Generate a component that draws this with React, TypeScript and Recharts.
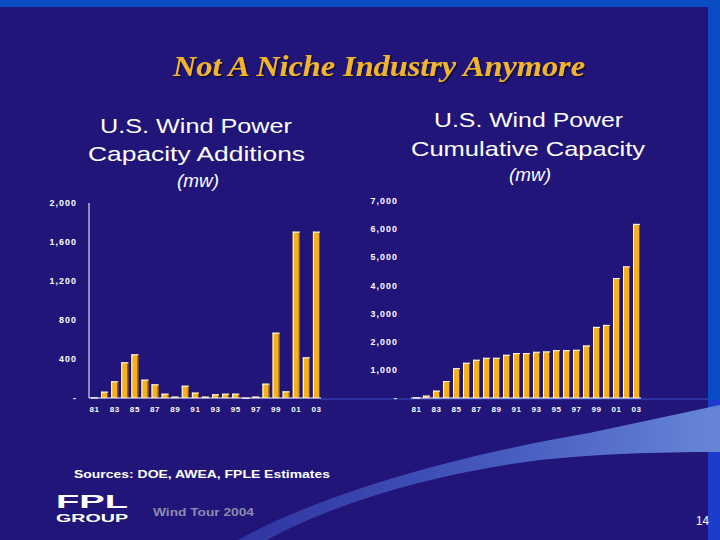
import React from 'react';
import { BarChart, Bar, XAxis, YAxis } from 'recharts';

const yearLabels = ['81','82','83','84','85','86','87','88','89','90','91','92','93','94','95','96','97','98','99','00','01','02','03'];
const additions = [5, 65, 171, 366, 448, 188, 140, 44, 14, 126, 55, 14, 38, 44, 44, 2, 14, 147, 670, 68, 1706, 417, 1706];
const cumulative = [20, 83, 260, 602, 1063, 1251, 1358, 1428, 1428, 1535, 1594, 1594, 1641, 1653, 1700, 1700, 1712, 1865, 2527, 2597, 4262, 4675, 6187];
const additionTicks = [0, 400, 800, 1200, 1600, 2000];
const cumulativeTicks = [0, 1000, 2000, 3000, 4000, 5000, 6000, 7000];

const additionsData = yearLabels.map((y, i) => ({ year: y, value: additions[i] }));
const cumulativeData = yearLabels.map((y, i) => ({ year: y, value: cumulative[i] }));

const NAVY = '#21157a';
const BLUE = '#0a4cc4';
const GOLD = '#f5b21b';
const FONT = '"Liberation Sans", Arial, sans-serif';

const fmt = (v: number) => (v === 0 ? '-' : v.toLocaleString('en-US'));

const GoldBar = (props: any) => {
  const { x, y, width, height } = props;
  if (!height || height <= 0) return null;
  return (
    <g>
      <rect x={x} y={y} width={width} height={height} fill={GOLD} />
      <line x1={x + width - 0.5} y1={y} x2={x + width - 0.5} y2={y + height} stroke="#7a4a12" strokeWidth={1} />
      <line x1={x + 0.5} y1={y + height} x2={x + 0.5} y2={y} stroke="#ffffff" strokeWidth={1} />
      <line x1={x} y1={y + 0.5} x2={x + width} y2={y + 0.5} stroke="#ffffff" strokeWidth={1} />
    </g>
  );
};

const YTick = (props: any) => {
  const { x, y, payload } = props;
  return (
    <text x={x} y={y} dy={3.2} textAnchor="end" fill="#ffffff" fontSize={8.8} fontWeight={700} fontFamily={FONT} letterSpacing={1.1}>
      {fmt(payload.value)}
    </text>
  );
};

const XTick = (props: any) => {
  const { x, y, payload } = props;
  return (
    <text x={x + 0.5} y={y} dy={5.8} textAnchor="middle" fill="#ffffff" fontSize={8} fontWeight={700} fontFamily={FONT} letterSpacing={0.6}>
      {payload.value}
    </text>
  );
};

export default function App() {
  return (
    <div style={{ position: 'absolute', left: 0, top: 0, width: 720, height: 540, background: NAVY, overflow: 'hidden' }}>
      <svg width={720} height={540} style={{ position: 'absolute', left: 0, top: 0 }}>
        <defs>
          <linearGradient id="sw" x1="238" y1="0" x2="709" y2="0" gradientUnits="userSpaceOnUse">
            <stop offset="0" stopColor="#3b4fc0" stopOpacity={0.55} />
            <stop offset="0.5" stopColor="#4a62c8" stopOpacity={0.85} />
            <stop offset="1" stopColor="#6584d6" stopOpacity={1} />
          </linearGradient>
          <filter id="shadow" x="-5%" y="-20%" width="110%" height="150%">
            <feDropShadow dx={1.5} dy={1.5} stdDeviation={0.4} floodColor="#0b0838" floodOpacity={1} />
          </filter>
        </defs>
        <rect x={0} y={0} width={720} height={7} fill={BLUE} />
        <rect x={708} y={0} width={12} height={540} fill={BLUE} />
        <rect x={708} y={400} width={12} height={140} fill="#1c3ccc" />
        <path d="M238,540 C300,505 420,462 589,433 Q650,420 720,405 L720,452 C650,452 600,454 540,460 C430,474 330,505 267,540 Z" fill="url(#sw)" />
        <line x1={320} y1={399} x2={708} y2={399} stroke="#3650c4" strokeWidth={1} />

        <text x={173} y={76} fill="#f2b52c" filter="url(#shadow)" fontSize={29} fontWeight={700} fontStyle="italic" fontFamily='"Liberation Serif", "Times New Roman", serif' textLength={412} lengthAdjust="spacingAndGlyphs">Not A Niche Industry Anymore</text>

        <text x={100} y={133} fill="#fff" fontSize={21} fontFamily={FONT} textLength={192} lengthAdjust="spacingAndGlyphs">U.S. Wind Power</text>
        <text x={88} y={161} fill="#fff" fontSize={21} fontFamily={FONT} textLength={217} lengthAdjust="spacingAndGlyphs">Capacity Additions</text>
        <text x={177} y={187} fill="#fff" fontSize={18} fontStyle="italic" fontFamily={FONT} textLength={42} lengthAdjust="spacingAndGlyphs">(mw)</text>

        <text x={434} y={127} fill="#fff" fontSize={21} fontFamily={FONT} textLength={189} lengthAdjust="spacingAndGlyphs">U.S. Wind Power</text>
        <text x={411} y={156} fill="#fff" fontSize={21} fontFamily={FONT} textLength={234} lengthAdjust="spacingAndGlyphs">Cumulative Capacity</text>
        <text x={509} y={181} fill="#fff" fontSize={18} fontStyle="italic" fontFamily={FONT} textLength={42} lengthAdjust="spacingAndGlyphs">(mw)</text>

        <text x={74} y={478} fill="#fff" fontSize={11} fontWeight={700} fontFamily={FONT} textLength={256} lengthAdjust="spacingAndGlyphs">Sources: DOE, AWEA, FPLE Estimates</text>
        <text x={153} y={516} fill="#8c8cae" fontSize={11} fontWeight={700} fontFamily={FONT} textLength={101} lengthAdjust="spacingAndGlyphs">Wind Tour 2004</text>
        <text x={696} y={525} fill="#fff" fontSize={13} fontFamily={FONT} textLength={13} lengthAdjust="spacingAndGlyphs">14</text>

        <text x={56} y={508} fill="#fff" fontSize={19} fontWeight={700} fontFamily={FONT} textLength={72} lengthAdjust="spacingAndGlyphs">FPL</text>
        <text x={56} y={522} fill="#fff" fontSize={11.5} fontWeight={700} fontFamily={FONT} textLength={72} lengthAdjust="spacingAndGlyphs">GROUP</text>
      </svg>

      <div style={{ position: 'absolute', left: 0, top: 0 }}>
        <BarChart width={720} height={540} data={additionsData} margin={{ top: 203, right: 399, bottom: 122, left: 29 }} barSize={7}>
          <XAxis dataKey="year" interval={1} tickLine={false} tickSize={6} tickMargin={2} height={20} axisLine={{ stroke: '#ffffff' }} tick={<XTick />} />
          <YAxis domain={[0, 2000]} ticks={additionTicks} width={60} tickLine={false} tickSize={6} tickMargin={6} axisLine={{ stroke: '#ffffff' }} tick={<YTick />} interval={0} />
          <Bar dataKey="value" isAnimationActive={false} shape={<GoldBar />} />
        </BarChart>
      </div>

      <div style={{ position: 'absolute', left: 0, top: 0 }}>
        <BarChart width={720} height={540} data={cumulativeData} margin={{ top: 201, right: 79, bottom: 122, left: 351 }} barSize={7}>
          <XAxis dataKey="year" interval={1} tickLine={false} tickSize={6} tickMargin={2} height={20} axisLine={{ stroke: '#ffffff' }} tick={<XTick />} />
          <YAxis domain={[0, 7000]} ticks={cumulativeTicks} width={60} tickLine={false} tickSize={6} tickMargin={7} axisLine={false} tick={<YTick />} interval={0} />
          <Bar dataKey="value" isAnimationActive={false} shape={<GoldBar />} />
        </BarChart>
      </div>
    </div>
  );
}
